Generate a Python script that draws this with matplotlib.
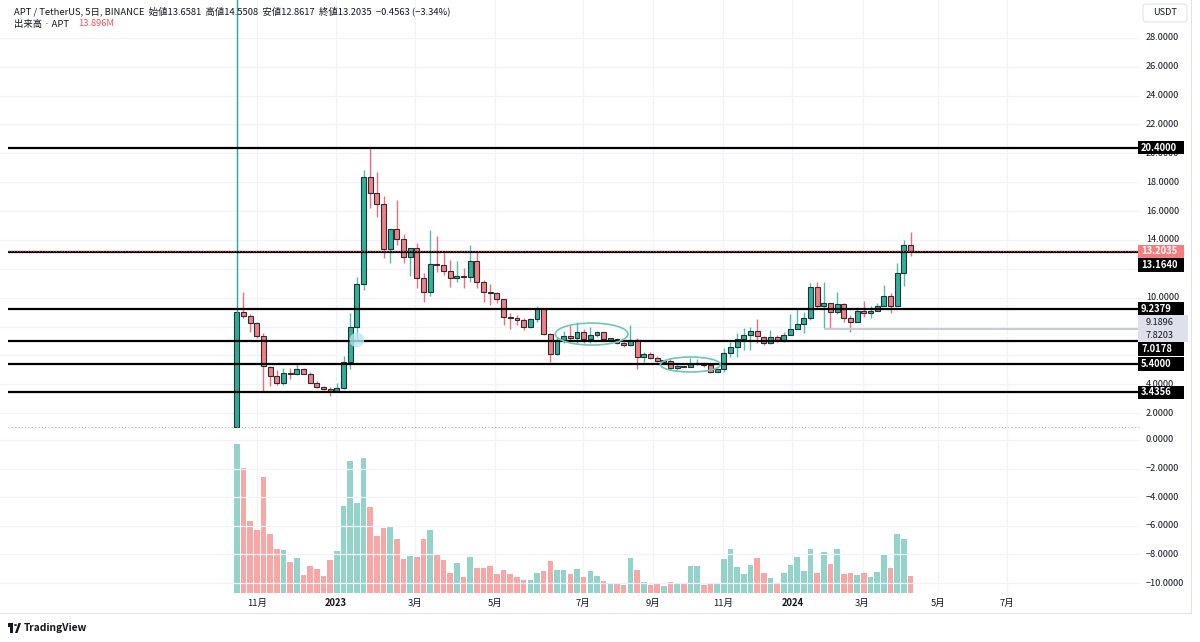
import matplotlib
matplotlib.use('Agg')
import matplotlib.pyplot as plt
from matplotlib.patches import Rectangle, Ellipse, FancyBboxPatch, Polygon, Circle
import numpy as np

plt.rcParams['font.family'] = ['Noto Sans CJK JP', 'DejaVu Sans']

# ---------------- data (5-day candles, APT/USDT) ----------------
opens = [1.06, 8.99, 8.73, 8.22, 7.37, 5.20, 4.58, 4.11, 4.81, 4.72,
         5.09, 4.74, 4.11, 3.83, 3.67, 3.56, 3.74, 5.52, 7.95, 10.94,
         18.34, 17.22, 16.47, 13.35, 14.73, 14.08, 12.84, 13.42, 11.34, 10.42,
         12.34, 12.25, 11.87, 11.38, 11.52, 11.45, 12.57, 11.06, 10.42, 10.35,
         9.89, 8.64, 8.57, 8.45, 7.99, 8.50, 9.20, 7.47, 6.08, 7.07,
         7.35, 7.19, 7.65, 7.12, 7.42, 7.61, 7.12, 7.14, 6.88, 6.72,
         7.07, 5.87, 6.08, 5.80, 5.60, 5.63, 5.10, 5.27, 5.22, 5.41,
         5.46, 5.33, 4.87, 5.03, 6.19, 6.60, 7.14, 7.42, 7.70, 7.30,
         6.84, 7.30, 7.07, 7.42, 7.80, 8.17, 8.57, 10.76, 9.42, 9.60,
         8.99, 9.54, 8.61, 8.33, 9.10, 8.92, 9.10, 9.44, 10.12, 9.44,
         11.69, 13.6581]
highs = [9.05, 10.37, 8.87, 8.33, 7.54, 5.27, 5.00, 5.10, 5.10, 5.50,
         5.13, 4.88, 4.25, 3.88, 3.79, 4.07, 5.96, 8.92, 11.45, 18.84,
         20.42, 18.68, 17.07, 14.78, 16.77, 14.39, 13.46, 13.77, 11.69, 14.69,
         14.27, 13.18, 12.61, 12.54, 12.06, 13.65, 13.18, 11.22, 10.92, 10.42,
         9.91, 8.92, 8.80, 8.61, 8.57, 9.44, 9.27, 7.54, 7.30, 7.72,
         8.10, 8.33, 7.84, 8.00, 7.70, 7.65, 7.20, 7.24, 6.95, 8.10,
         7.19, 6.22, 6.22, 5.94, 5.66, 5.73, 5.41, 5.30, 5.80, 5.73,
         5.57, 5.46, 5.15, 6.50, 6.95, 7.54, 7.88, 8.00, 8.50, 7.35,
         7.77, 7.42, 7.65, 8.85, 9.27, 9.03, 11.00, 11.06, 11.10, 9.60,
         10.42, 9.66, 8.80, 9.32, 9.77, 9.42, 9.66, 10.88, 10.30, 12.40,
         14.00, 14.5508]
lows = [1.00, 8.57, 7.65, 7.19, 3.56, 3.88, 3.95, 3.95, 4.35, 4.63,
        4.69, 4.07, 3.72, 3.60, 3.19, 3.54, 3.69, 5.08, 7.12, 10.53,
        16.19, 15.56, 12.72, 12.43, 13.65, 12.43, 11.52, 10.65, 9.72, 10.12,
        11.80, 11.57, 10.76, 11.06, 10.67, 11.10, 10.65, 9.72, 9.49, 9.60,
        8.10, 7.83, 8.10, 7.77, 7.87, 8.33, 7.42, 5.52, 6.02, 6.85,
        6.95, 6.84, 6.84, 6.84, 7.30, 7.07, 7.05, 6.81, 6.60, 6.67,
        5.03, 5.57, 5.75, 5.57, 5.56, 4.99, 4.99, 5.20, 5.17, 5.33,
        5.22, 4.76, 4.85, 4.87, 5.91, 5.91, 6.37, 6.37, 6.84, 6.75,
        6.77, 6.95, 6.95, 7.40, 7.83, 7.54, 8.45, 9.27, 7.88, 7.88,
        8.85, 8.33, 7.60, 8.30, 8.68, 8.61, 9.17, 9.40, 8.92, 9.40,
        10.83, 12.8617]
closes = [8.98, 8.73, 8.22, 7.37, 5.27, 4.58, 4.11, 4.81, 4.72, 5.09,
          4.74, 4.11, 3.83, 3.67, 3.56, 3.76, 5.52, 7.95, 10.94, 18.34,
          17.22, 16.47, 13.35, 14.73, 14.08, 12.84, 13.42, 11.34, 10.42, 12.34,
          12.25, 11.87, 11.38, 11.52, 11.45, 12.57, 11.06, 10.42, 10.35, 9.89,
          8.64, 8.57, 8.45, 7.99, 8.50, 9.20, 7.47, 6.08, 7.07, 7.35,
          7.19, 7.65, 7.12, 7.42, 7.61, 7.14, 7.15, 6.84, 6.72, 7.07,
          5.87, 6.08, 5.80, 5.63, 5.64, 5.10, 5.27, 5.24, 5.41, 5.50,
          5.33, 4.87, 5.03, 6.19, 6.60, 7.14, 7.42, 7.70, 7.35, 6.84,
          7.30, 7.07, 7.42, 7.80, 8.17, 8.57, 10.76, 9.42, 9.60, 8.99,
          9.54, 8.61, 8.33, 9.10, 8.92, 9.10, 9.44, 10.12, 9.44, 11.69,
          13.6581, 13.2035]
volumes = [118.9, 100.3, 57.3, 50.4, 92.5, 46.9, 35.2, 34.7, 24.5, 28.3,
           14.1, 21.3, 18.9, 13.3, 26.4, 33.3, 69.3, 105.9, 72.0, 107.7,
           69.1, 45.9, 52.0, 52.5, 42.9, 26.9, 29.3, 28.8, 42.9, 50.7,
           30.1, 26.4, 15.7, 23.7, 12.8, 29.1, 19.7, 20.3, 21.3, 15.2,
           18.1, 15.2, 12.8, 10.1, 10.1, 15.7, 17.6, 25.6, 18.1, 18.1,
           15.2, 18.9, 12.8, 17.6, 13.9, 9.6, 6.9, 6.9, 6.1, 27.7,
           18.1, 8.5, 6.1, 8.0, 5.6, 8.5, 8.0, 7.5, 21.3, 21.3,
           6.1, 6.9, 8.0, 26.9, 34.9, 20.8, 15.5, 22.4, 28.3, 16.3,
           11.7, 8.0, 16.3, 22.4, 28.8, 17.3, 34.9, 15.7, 32.5, 23.2,
           34.9, 14.9, 16.3, 14.4, 15.7, 13.1, 16.8, 30.1, 20.0, 47.5,
           42.9, 13.896]

level_lines = [20.4, 13.164, 9.2379, 7.0178, 5.4, 3.4356]
last_price = 13.2035
range_low, range_high = 7.8203, 9.1896
range_start_bar = 88

month_ticks = [3.0, 14.9, 26.7, 38.7, 51.9, 62.4, 72.9, 83.3, 93.8, 105.1, 115.5]
month_labels = ['11月', '2023', '3月', '5月', '7月', '9月', '11月', '2024', '3月', '5月', '7月']
price_ticks = [2, 4, 6, 8, 10, 12, 14, 16, 18, 20, 22, 24, 26, 28]
vol_ticks = [0, -2, -4, -6, -8, -10]

# drawn annotations (bar index, price, width in bars, height in price)
ellipses = [(53.2, 7.48, 10.9, 1.52), (68.0, 5.37, 9.0, 1.04)]
cursor_mark = (18.0, 7.07)

header_main = 'APT / TetherUS, 5日, BINANCE  始値13.6581  高値14.5508  安値12.8617  終値13.2035  −0.4563 (−3.34%)'
header_vol = '出来高 · APT'
header_vol_value = '13.896M'

# ---------------- styling ----------------
UP = '#2db39a'
DOWN = '#f47f80'
UP_WICK = '#4cbfa8'
DOWN_WICK = '#f26d78'
VOL_UP = '#93d3c9'
VOL_DOWN = '#f7a7a6'
GRID = '#f0f3fa'
TXT = '#131722'

W, H = 1200, 642
fig = plt.figure(figsize=(W / 100, H / 100), dpi=100)
fig.patch.set_facecolor('white')

def fx(px):
    return px / W

def fy(py):
    return 1 - py / H

PLOT_R = 1140
ax = fig.add_axes([0, fy(428), fx(PLOT_R), 428 / H])
axv = fig.add_axes([0, fy(593), fx(PLOT_R), 165 / H])
axl = axv.twinx()

# price mapping: y_px = 147.5 + (20.4 - p) * 14.44
PPX = 14.44
def price_to_px(p):
    return 147.5 + (20.4 - p) * PPX

xlim = (-35.5, 135.4)
for a in (ax, axv, axl):
    a.set_xlim(*xlim)
    for s in a.spines.values():
        s.set_visible(False)
    a.set_xticks([])
    a.set_yticks([])
    a.patch.set_alpha(0)
ax.set_ylim(20.4 - (428 - 147.5) / PPX, 20.4 + 147.5 / PPX)
axv.set_ylim(0, 132)
axl.set_ylim(-10.70, 0.839)

# grid
for t in price_ticks:
    ax.axhline(t, color=GRID, lw=0.9, zorder=0)
for t in vol_ticks:
    axl.axhline(t, color=GRID, lw=0.9, zorder=0)
for t in month_ticks:
    ax.axvline(t, color=GRID, lw=0.9, zorder=0)
    axv.axvline(t, color=GRID, lw=0.9, zorder=0)

# candles
n = len(opens)
idx = np.arange(n)
for i in range(n):
    o, h, l, c = opens[i], highs[i], lows[i], closes[i]
    up = c >= o
    ax.vlines(i, l, h, color=UP_WICK if up else DOWN_WICK, lw=1.0, zorder=2)
    lo, hi = min(o, c), max(o, c)
    if hi - lo < 0.08:
        mid = (hi + lo) / 2
        lo, hi = mid - 0.04, mid + 0.04
    ax.add_patch(Rectangle((i - 0.37, lo), 0.74, hi - lo, facecolor=UP if up else DOWN,
                           edgecolor='#2a2e39', lw=0.8, zorder=3))

# volume bars
vcols = [VOL_UP if closes[i] >= opens[i] else VOL_DOWN for i in range(n)]
axv.bar(idx, volumes, width=0.84, color=vcols, zorder=2)

# drawings
line_x0 = (8 - 236.7) / 6.67
for lv in level_lines:
    ax.hlines(lv, line_x0, xlim[1], color='#000000', lw=1.6, zorder=5)
ax.hlines(range_low, range_start_bar, xlim[1], color='#c8cbd6', lw=1.5, zorder=4)
ax.hlines(last_price, line_x0, xlim[1], color='#e0404d', lw=0.8,
          linestyles=(0, (1, 1.5)), zorder=6)
ax.axvline(0, color='#22ab94', lw=1.0, zorder=4)
ax.hlines(ax.get_ylim()[0] + 0.08, line_x0, xlim[1], color='#b2b5be', lw=0.8,
          linestyles=(0, (1, 2)), zorder=1)
for (ex, ey, ew, eh) in ellipses:
    ax.add_patch(Ellipse((ex, ey), ew, eh, fill=False, edgecolor='#6cc8b8', lw=1.2, zorder=6))
ax.scatter([cursor_mark[0]], [cursor_mark[1]], s=110, color='#b8e8f0', alpha=0.8,
           edgecolors='none', zorder=7)

# price scale value boxes with simple collision avoidance
boxes = [(20.4, 'black'), (13.2035, 'red'), (13.164, 'black'), (9.2379, 'black'),
         (9.1896, 'gray'), (7.8203, 'gray'), (7.0178, 'black'), (5.4, 'black'),
         (3.4356, 'black')]
placed = []
prev = -1e9
for val, kind in sorted(boxes, key=lambda b: -b[0]):
    y = max(price_to_px(val), prev + 13.5)
    placed.append((val, kind, y))
    prev = y
bx0, bx1, bh = 1138, 1184, 13.5
spans = [(y - bh / 2 - 1.5, y + bh / 2 + 1.5) for _, _, y in placed]

def covered(y0, y1):
    # True if [y0, y1] lies fully inside the union of the box spans
    pos = y0
    for a, b in sorted(spans):
        if a <= pos <= b:
            pos = max(pos, b)
    return pos >= y1

# right price scale labels (those fully hidden behind value boxes are not drawn)
for t in price_ticks:
    ypx = price_to_px(t)
    if covered(ypx - 4, ypx + 4):
        continue
    fig.text(fx(1146), fy(ypx), f'{t:.4f}', fontsize=6.6, color=TXT,
             va='center', ha='left')
for t in vol_ticks:
    ypx = 440 + (-t) * 14.3
    lab = f'{t:.4f}'.replace('-', '−')
    fig.text(fx(1146), fy(ypx), lab, fontsize=6.6, color=TXT, va='center', ha='left')

gray_ys = [y for v, k, y in placed if k == 'gray']
if gray_ys:
    y0 = min(gray_ys) - bh / 2
    y1 = max(gray_ys) + bh / 2
    fig.patches.append(Rectangle((fx(bx0), fy(y1)), fx(bx1 + 4) - fx(bx0), (y1 - y0) / H,
                                 transform=fig.transFigure, facecolor='#dfe1ea',
                                 edgecolor='none', zorder=10))
for val, kind, y in placed:
    if kind == 'gray':
        fig.text(fx(1146), fy(y), f'{val:.4f}', fontsize=6.6, color=TXT, va='center',
                 ha='left', zorder=12)
        continue
    fc = '#000000' if kind == 'black' else '#f77c80'
    fig.patches.append(Rectangle((fx(bx0), fy(y + bh / 2)), fx(bx1) - fx(bx0), bh / H,
                                 transform=fig.transFigure, facecolor=fc,
                                 edgecolor='none', zorder=10))
    fig.text(fx(1141), fy(y), f'{val:.4f}', fontsize=6.8, color='white', va='center',
             ha='left', fontweight='bold', zorder=12)

# USDT box
fig.patches.append(FancyBboxPatch((fx(1143), fy(22)), fx(1187) - fx(1143), 18 / H,
                                  boxstyle='round,pad=0,rounding_size=0.004',
                                  transform=fig.transFigure, facecolor='white',
                                  edgecolor='#e0e3eb', lw=0.8, zorder=10))
fig.text(fx(1165), fy(12.5), 'USDT', fontsize=6.6, color=TXT, va='center', ha='center', zorder=12)

# frame lines
fig.add_artist(plt.Line2D([fx(1191), fx(1191)], [fy(0), fy(613)], color='#e0e3eb', lw=0.8))
fig.add_artist(plt.Line2D([0, fx(1191)], [fy(613), fy(613)], color='#e0e3eb', lw=0.8))

# time axis labels
for t, lab in zip(month_ticks, month_labels):
    xpx = 236.7 + 6.67 * t
    bold = lab.isdigit()
    fig.text(fx(xpx), fy(603), lab, fontsize=6.8, color=TXT, va='center', ha='center',
             fontweight='bold' if bold else 'normal')

# header
fig.text(fx(14), fy(11), header_main, fontsize=6.75, color=TXT, va='center', ha='left')
fig.text(fx(14), fy(24), header_vol, fontsize=6.75, color=TXT, va='center', ha='left')
fig.text(fx(78), fy(24), header_vol_value, fontsize=6.75, color='#f7525f', va='center', ha='left')

# TradingView logo
fig.patches.append(Rectangle((fx(8), fy(627)), fx(13) - fx(8), 4 / H, transform=fig.transFigure,
                             facecolor=TXT, edgecolor='none'))
fig.patches.append(Rectangle((fx(10), fy(633)), fx(13) - fx(10), 10 / H, transform=fig.transFigure,
                             facecolor=TXT, edgecolor='none'))
fig.patches.append(Circle((fx(15.5), fy(625)), 1.6 / W, transform=fig.transFigure,
                          facecolor=TXT, edgecolor='none'))
fig.patches.append(Polygon([(fx(15), fy(633)), (fx(18.5), fy(623)), (fx(21), fy(623)),
                            (fx(17.5), fy(633))], closed=True, transform=fig.transFigure,
                           facecolor=TXT, edgecolor='none'))
fig.text(fx(24), fy(628), 'TradingView', fontsize=7.4, color=TXT, va='center', ha='left',
         fontweight='bold')

fig.savefig('out.png', dpi=100, facecolor='white')
